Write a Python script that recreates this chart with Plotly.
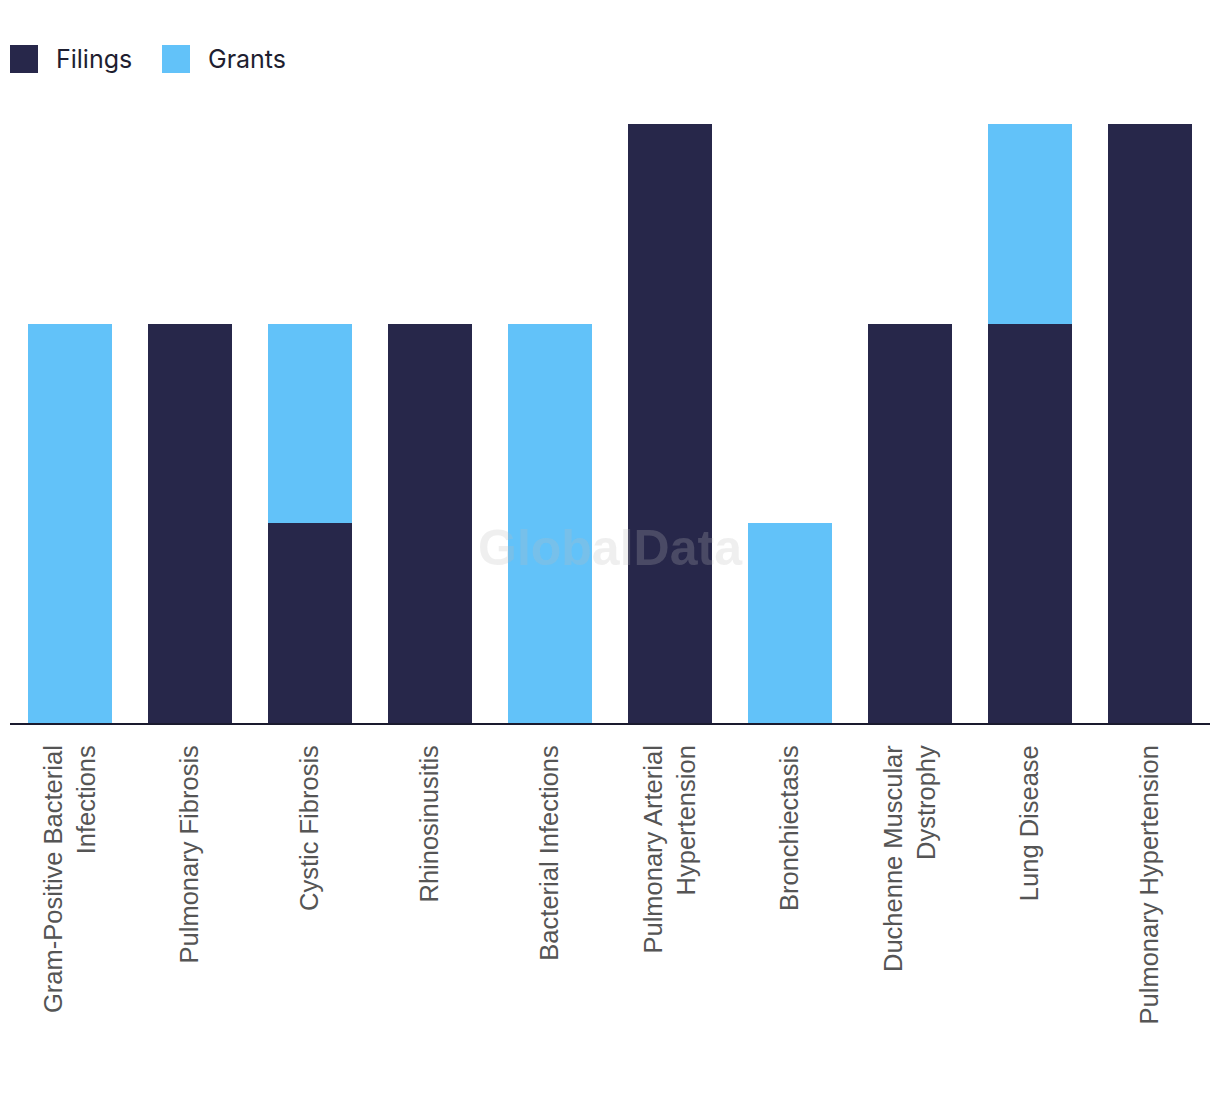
import plotly.graph_objects as go

categories = [
    "Gram-Positive Bacterial<br>Infections",
    "Pulmonary Fibrosis",
    "Cystic Fibrosis",
    "Rhinosinusitis",
    "Bacterial Infections",
    "Pulmonary Arterial<br>Hypertension",
    "Bronchiectasis",
    "Duchenne Muscular<br>Dystrophy",
    "Lung Disease",
    "Pulmonary Hypertension",
]
filings = [0, 2, 1, 2, 0, 3, 0, 2, 2, 3]
grants = [2, 0, 1, 0, 2, 0, 1, 0, 1, 0]

DARK = "#27274a"
LIGHT = "#62c2f9"

W, H = 1220, 1094
OFF = 8  # page body offset
ML, MR, MT, MB = 10 - OFF, 18, 124 - OFF, 379

fig = go.Figure()
fig.add_trace(go.Bar(x=categories, y=filings, name="Filings", marker_color=DARK,
                     marker_line_width=0, showlegend=False))
fig.add_trace(go.Bar(x=categories, y=grants, name="Grants", marker_color=LIGHT,
                     marker_line_width=0, showlegend=False))

pw = W - ML - MR
ph = H - MT - MB


def px_x(p):
    return (p - OFF - ML) / pw


def px_y(p):
    return (H - MB - (p - OFF)) / ph


# custom legend
legend_items = [("Filings", DARK, 10), ("Grants", LIGHT, 162)]
for name, col, x0 in legend_items:
    fig.add_shape(type="rect", xref="paper", yref="paper",
                  x0=px_x(x0), x1=px_x(x0 + 28), y0=px_y(73), y1=px_y(45),
                  fillcolor=col, line_width=0)
    fig.add_annotation(text=name, xref="paper", yref="paper",
                       x=px_x(x0 + 44), y=px_y(59), xanchor="left", yanchor="middle",
                       showarrow=False, font=dict(family="Inter", size=25, color="#1e1e30"))

# watermark
fig.add_annotation(text="<b>GlobalData</b>", xref="paper", yref="paper",
                   x=px_x(610), y=px_y(548), xanchor="center", yanchor="middle",
                   showarrow=False,
                   font=dict(family="Liberation Sans", size=50, color="rgba(190,190,190,0.24)"))

fig.update_layout(
    barmode="stack",
    bargap=0.3,
    width=W, height=H,
    margin=dict(l=ML, r=MR, t=MT, b=MB),
    plot_bgcolor="white",
    paper_bgcolor="white",
    xaxis=dict(
        tickangle=-90,
        showline=True, linecolor="#1a1a2e", linewidth=2,
        showgrid=False, ticks="",
        tickfont=dict(family="Liberation Sans", size=25.5, color="#555555"),
        ticklabelstandoff=10,
    ),
    yaxis=dict(range=[0, 3], visible=False, showgrid=False),
)

fig.write_html("out.html")
